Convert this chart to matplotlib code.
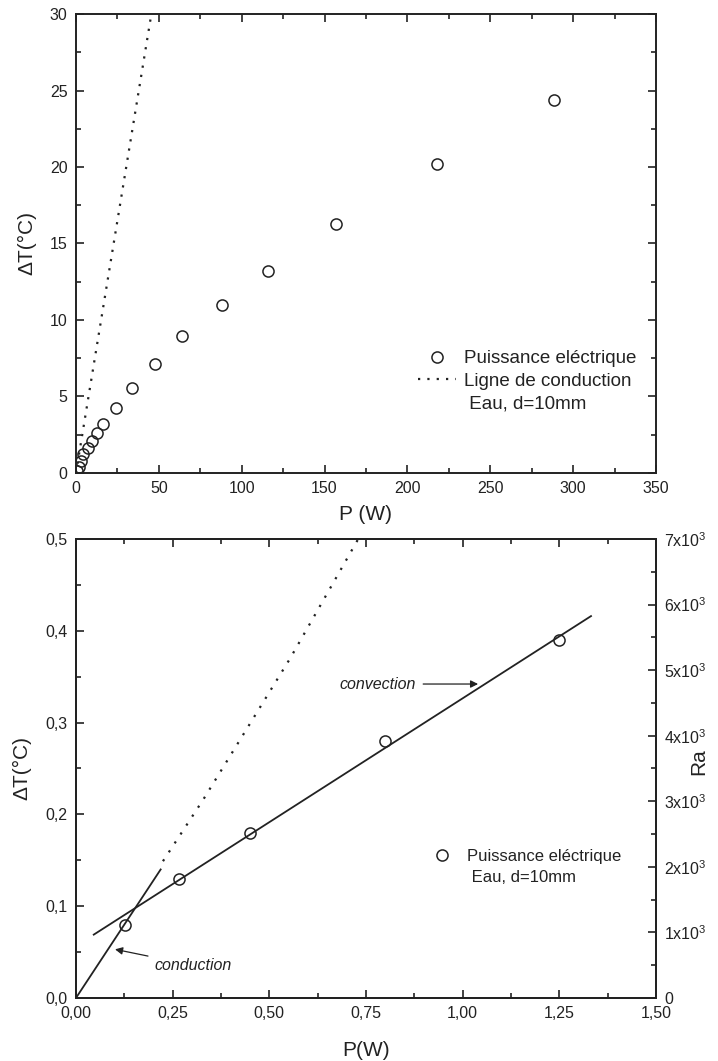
import numpy as np
import matplotlib.pyplot as plt
from matplotlib.ticker import MultipleLocator, FuncFormatter
from matplotlib.lines import Line2D

plt.rcParams['font.family'] = ['Liberation Sans', 'DejaVu Sans']
plt.rcParams['mathtext.fontset'] = 'custom'
plt.rcParams['mathtext.rm'] = 'Liberation Sans'
plt.rcParams['mathtext.it'] = 'Liberation Sans:italic'
plt.rcParams['xtick.direction'] = 'in'
plt.rcParams['ytick.direction'] = 'in'

ink = '#222222'

# graphe du haut : puissance électrique, eau d=10mm
P_haut = [0.8, 1.6, 2.8, 4.4, 7.0, 9.8, 12.7, 16.5, 24.1, 33.8, 47.9, 64.0,
          88.1, 115.7, 156.7, 217.7, 288.5]
T_haut = [0.1, 0.37, 0.8, 1.22, 1.65, 2.1, 2.64, 3.2, 4.27, 5.53, 7.12, 8.95,
          11.0, 13.2, 16.3, 20.2, 24.4]
# ligne de conduction
P_cond_haut = [0, 45.5]
T_cond_haut = [0, 30]

# graphe du bas : faibles puissances
P_bas = [0.127, 0.266, 0.450, 0.80, 1.25]
T_bas = [0.08, 0.13, 0.18, 0.28, 0.39]
P_conduction = [0, 0.219]
T_conduction = [0, 0.14]
P_convection = [0.046, 1.332]
T_convection = [0.069, 0.416]
P_pointille = [0.225, 0.329, 0.554, 0.73]
T_pointille = [0.149, 0.216, 0.370, 0.50]

Ra_ticks = [0, 1000, 2000, 3000, 4000, 5000, 6000, 7000]
Ra_labels = ['0'] + ['%dx10$^{3}$' % (v // 1000) for v in Ra_ticks[1:]]

fig = plt.figure(figsize=(7.18, 10.61), dpi=100)
ax1 = fig.add_axes([0.1058, 0.5542, 0.8078, 0.4326])
ax2 = fig.add_axes([0.1058, 0.0594, 0.8078, 0.4326])


def style(ax):
    for s in ax.spines.values():
        s.set_linewidth(1.4)
        s.set_color(ink)
    ax.tick_params(which='both', top=True, right=True, colors=ink, width=1.2,
                   labelsize=11.5)
    ax.tick_params(axis='x', pad=6)
    ax.tick_params(axis='y', pad=6)
    ax.tick_params(which='major', length=6)
    ax.tick_params(which='minor', length=3.5)


# --- haut ---
ax1.plot(P_cond_haut, T_cond_haut, color=ink, lw=1.6, ls=(0, (1, 3.2)),
         label='Ligne de conduction')
ax1.plot(P_haut, T_haut, 'o', mfc='none', mec=ink, ms=8, mew=1.1,
         label='Puissance eléctrique')
ax1.set_xlim(0, 350)
ax1.set_ylim(0, 30)
ax1.xaxis.set_major_locator(MultipleLocator(50))
ax1.xaxis.set_minor_locator(MultipleLocator(25))
ax1.yaxis.set_major_locator(MultipleLocator(5))
ax1.yaxis.set_minor_locator(MultipleLocator(2.5))
style(ax1)
ax1.set_xlabel('P (W)', fontsize=15, labelpad=6, color=ink)
ax1.set_ylabel('ΔT(°C)', fontsize=15, labelpad=10, color=ink)

h, l = ax1.get_legend_handles_labels()
vide = Line2D([], [], ls='none')
ax1.legend([h[1], h[0], vide], [l[1], l[0], ' Eau, d=10mm'],
           loc='upper left', bbox_to_anchor=(0.59, 0.268), frameon=False,
           fontsize=13.5, handlelength=2, handletextpad=0.45, labelspacing=0.3,
           borderpad=0, borderaxespad=0, labelcolor=ink)

# --- bas ---
ax2.plot(P_pointille, T_pointille, color=ink, lw=1.6, ls=(0, (1, 3.8)))
ax2.plot(P_conduction, T_conduction, color=ink, lw=1.3)
ax2.plot(P_convection, T_convection, color=ink, lw=1.3)
pts, = ax2.plot(P_bas, T_bas, 'o', mfc='none', mec=ink, ms=8, mew=1.1)
ax2.set_xlim(0, 1.5)
ax2.set_ylim(0, 0.5)
ax2.xaxis.set_major_locator(MultipleLocator(0.25))
ax2.xaxis.set_minor_locator(MultipleLocator(0.125))
ax2.yaxis.set_major_locator(MultipleLocator(0.1))
ax2.yaxis.set_minor_locator(MultipleLocator(0.05))
ax2.xaxis.set_major_formatter(FuncFormatter(lambda v, p: ('%.2f' % v).replace('.', ',')))
ax2.yaxis.set_major_formatter(FuncFormatter(lambda v, p: ('%.1f' % v).replace('.', ',')))
style(ax2)
ax2.set_xlabel('P(W)', fontsize=15, labelpad=14, color=ink)
ax2.set_ylabel('ΔT(°C)', fontsize=15, labelpad=10, color=ink)

ax2.legend([pts, vide], ['Puissance eléctrique', ' Eau, d=10mm'],
           loc='upper left', bbox_to_anchor=(0.602, 0.325), frameon=False,
           fontsize=12, handlelength=2, handletextpad=0.5, labelspacing=0.35,
           borderpad=0, borderaxespad=0, labelcolor=ink)

fleche = dict(arrowstyle='-|>', color=ink, lw=0.9, mutation_scale=11, shrinkA=3, shrinkB=0)
ax2.annotate('convection', xy=(1.04, 0.342), xytext=(0.88, 0.342), ha='right',
             va='center', fontsize=11.5, style='italic', color=ink, arrowprops=fleche)
ax2.annotate('conduction', xy=(0.101, 0.053), xytext=(0.204, 0.0355), ha='left',
             va='center', fontsize=11.5, style='italic', color=ink, arrowprops=fleche)

ax3 = ax2.twinx()
ax3.set_ylim(0, 7000)
ax3.set_yticks(Ra_ticks)
ax3.set_yticklabels(Ra_labels)
ax3.yaxis.set_minor_locator(MultipleLocator(500))
ax3.tick_params(which='both', direction='in', colors=ink, width=1.2, labelsize=11.5, pad=6)
ax3.tick_params(which='major', length=6)
ax3.tick_params(which='minor', length=3.5)
for s in ax3.spines.values():
    s.set_linewidth(1.4)
    s.set_color(ink)
ax3.set_ylabel('Ra', fontsize=15, color=ink)
ax3.yaxis.set_label_coords(1.057, 0.515)

fig.savefig('out.png', dpi=100)
